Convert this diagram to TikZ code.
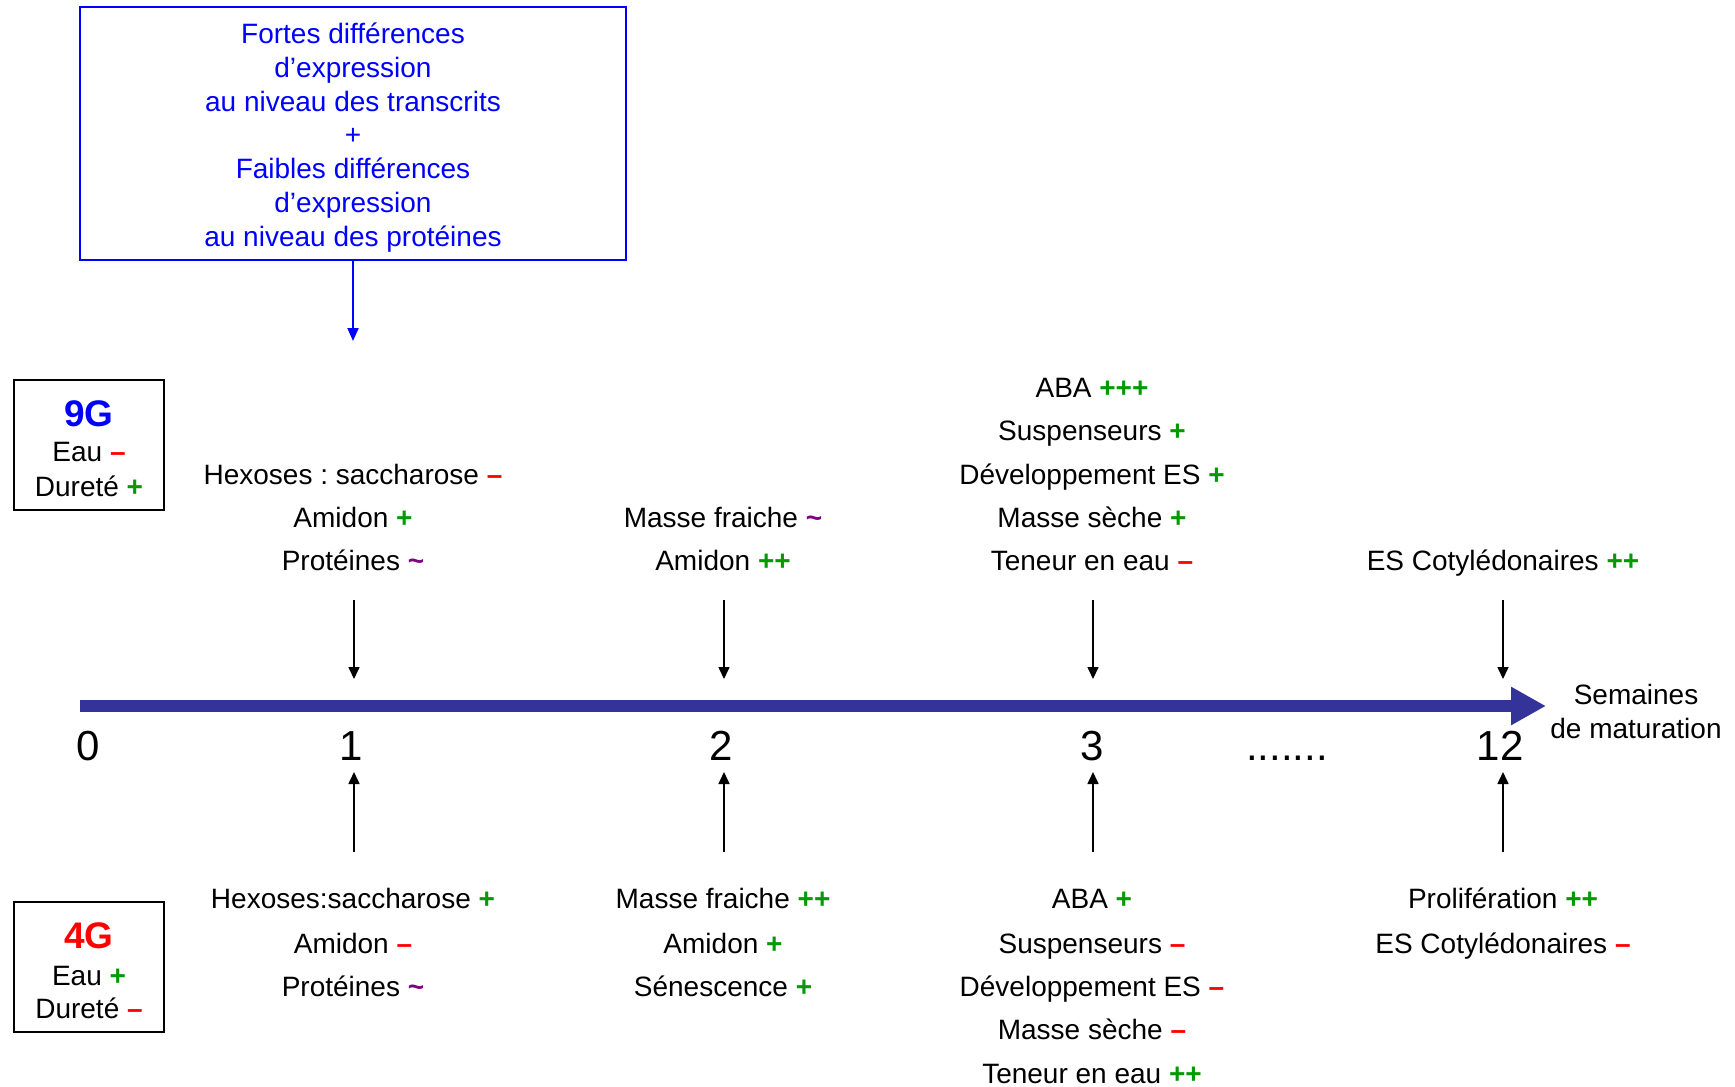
\documentclass[tikz,border=0pt]{standalone}
\usepackage{fontspec}
\setmainfont{Liberation Sans}
\usetikzlibrary{arrows.meta}
\frenchspacing
\definecolor{pgreen}{RGB}{0,153,0}
\definecolor{pred}{RGB}{255,0,0}
\definecolor{ppurple}{RGB}{128,0,128}
\definecolor{axisblue}{RGB}{51,51,153}
\definecolor{tblue}{RGB}{0,0,255}
\newcommand{\pplus}{\textcolor{pgreen}{\textbf{+}}}
\newcommand{\mminus}{\textcolor{pred}{\textbf{–}}}
\newcommand{\ttilde}{\textcolor{ppurple}{\textbf{\char"7E}}}
\begin{document}
\begin{tikzpicture}[x=1pt,y=-1pt,
  lab/.style={anchor=base, inner sep=0pt, font=\fontsize{28}{32}\selectfont},
  boxlab/.style={anchor=base, inner sep=0pt, font=\fontsize{28}{32}\selectfont},
  numlab/.style={anchor=base, inner sep=0pt, font=\fontsize{42}{48}\selectfont},
  tick/.style={black, line width=1.6pt, -{Triangle[length=12pt,width=11pt]}},
  framebox/.style={draw=black, line width=1.5pt}
]
\useasboundingbox (0,0) rectangle (1735,1087);

% top blue box
\node[draw=tblue, line width=2pt, minimum width=546pt, minimum height=253pt, inner sep=0pt] (topbox) at (353,133.5) {};
\node[inner sep=0pt, align=center, text=tblue, font=\fontsize{28}{33.7}\selectfont] (toptext) at (353,137.5)
  {Fortes différences\\d’expression\\au niveau des transcrits\\+\\Faibles différences\\d’expression\\au niveau des protéines};
\coordinate (topend) at (353,341);
\draw[tblue, line width=2pt, -{Triangle[length=13pt,width=11pt]}] (topbox.south) -- (topend);

% 9G box
\node[framebox, minimum width=150pt, minimum height=130pt, inner sep=0pt] (b9) at (89,445) {};
\node[anchor=base, inner sep=0pt, font=\fontsize{37}{42}\selectfont\bfseries, text=tblue] (g9) at (89,426) {9G};
\node[boxlab] (g9a) at (89,461) {Eau \mminus};
\node[boxlab] (g9b) at (89,496) {Dureté \pplus};

% 4G box
\node[framebox, minimum width=150pt, minimum height=130pt, inner sep=0pt] (b4) at (89,967) {};
\node[anchor=base, inner sep=0pt, font=\fontsize{37}{42}\selectfont\bfseries, text=pred] (g4) at (89,948) {4G};
\node[boxlab] (g4a) at (89,985) {Eau \pplus};
\node[boxlab] (g4b) at (89,1018) {Dureté \mminus};

% axis
\coordinate (axs) at (80,706);
\coordinate (axe) at (1546,706);
\draw[axisblue, line width=12pt, -{Triangle[length=35pt,width=36pt]}] (axs) -- (axe);
\node[anchor=center, inner sep=0pt, align=center, font=\fontsize{28}{34}\selectfont] (sem) at (1636,711) {Semaines\\de maturation};

% numbers
\node[numlab] (n0) at (88,760) {0};
\node[numlab] (n1) at (351,760) {1};
\node[numlab] (n2) at (721,760) {2};
\node[numlab] (n3) at (1092,760) {3};
\node[numlab] (ndots) at (1287,760) {.......};
\node[numlab] (n12) at (1500,760) {12};

% upper labels
\node[lab] (u11) at (353,484) {Hexoses : saccharose \mminus};
\node[lab] (u12) at (353,527) {Amidon \pplus};
\node[lab] (u13) at (353,570) {Protéines \ttilde};

\node[lab] (u21) at (723,527) {Masse fraiche \ttilde};
\node[lab] (u22) at (723,570) {Amidon \pplus\pplus};

\node[lab] (u31) at (1092,397) {ABA \textcolor{pgreen}{\textbf{+++}}};
\node[lab] (u32) at (1092,440) {Suspenseurs \pplus};
\node[lab] (u33) at (1092,484) {Développement ES \pplus};
\node[lab] (u34) at (1092,527) {Masse sèche \pplus};
\node[lab] (u35) at (1092,570) {Teneur en eau \mminus};

\node[lab] (u41) at (1503,570) {ES Cotylédonaires \textcolor{pgreen}{\textbf{++}}};

% lower labels
\node[lab] (l11) at (353,908) {Hexoses:saccharose \pplus};
\node[lab] (l12) at (353,953) {Amidon \mminus};
\node[lab] (l13) at (353,996) {Protéines \ttilde};

\node[lab] (l21) at (723,908) {Masse fraiche \textcolor{pgreen}{\textbf{++}}};
\node[lab] (l22) at (723,953) {Amidon \pplus};
\node[lab] (l23) at (723,996) {Sénescence \pplus};

\node[lab] (l31) at (1092,908) {ABA \pplus};
\node[lab] (l32) at (1092,953) {Suspenseurs \mminus};
\node[lab] (l33) at (1092,996) {Développement ES \mminus};
\node[lab] (l34) at (1092,1039) {Masse sèche \mminus};
\node[lab] (l35) at (1092,1083) {Teneur en eau \textcolor{pgreen}{\textbf{++}}};

\node[lab] (l41) at (1503,908) {Prolifération \textcolor{pgreen}{\textbf{++}}};
\node[lab] (l42) at (1503,953) {ES Cotylédonaires \mminus};

% tick arrows
\foreach \n/\x in {1/354,2/724,3/1093,4/1503}{
  \coordinate (ds\n) at (\x,600);
  \coordinate (de\n) at (\x,679);
  \coordinate (us\n) at (\x,852);
  \coordinate (ue\n) at (\x,772);
  \draw[tick] (ds\n) -- (de\n);
  \draw[tick] (us\n) -- (ue\n);
}
\end{tikzpicture}
\end{document}
